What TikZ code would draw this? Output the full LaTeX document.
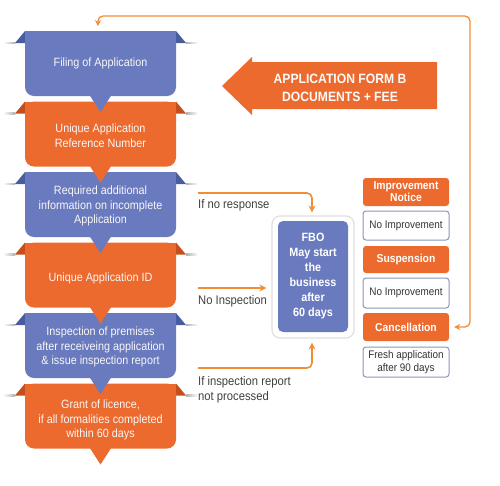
\documentclass[tikz,border=0pt]{standalone}
\usepackage{fontspec}
\setmainfont{Liberation Sans}[FakeStretch=0.9]
\usetikzlibrary{arrows.meta,calc}

\definecolor{fboblue}{RGB}{106,122,190}
\definecolor{earblue}{RGB}{72,92,160}
\definecolor{fborange}{RGB}{237,106,46}
\definecolor{earorange}{RGB}{196,78,28}
\definecolor{loopcol}{RGB}{240,142,55}
\definecolor{notecol}{RGB}{140,150,185}

\tikzset{blocktext/.style={text=white!94!gray,align=center,font=\fontsize{12}{14.5}\selectfont}}
\tikzset{headtext/.style={text=white!96!gray,align=center,font=\bfseries\fontsize{13.5}{18}\selectfont}}
\tikzset{sidebox/.style={fill=fborange,rounded corners=3pt,text=white,align=center,inner sep=0pt,
  minimum width=86pt,font=\bfseries\fontsize{11.5}{12}\selectfont}}
\tikzset{notebox/.style={draw=notecol,line width=1pt,fill=white,rounded corners=3pt,text=black!80,align=center,
  inner sep=0pt,minimum width=86pt,font=\fontsize{11}{13.5}\selectfont}}
\tikzset{mylabel/.style={text=black!75,anchor=west,inner sep=0pt,align=left,font=\fontsize{12.5}{15}\selectfont}}
\tikzset{myarrow/.style={loopcol,line width=1.6pt,-{Stealth[length=7pt,width=7pt]},rounded corners=5pt}}

% one step of the left column: top edge, fill colour, colour of the folds
\newcommand{\flowblock}[3]{%
  \shade[left color=white,right color=gray!60] (3,#1+11) rectangle (15,#1+12.5);
  \shade[left color=gray!60,right color=white] (186,#1+11) rectangle (198,#1+12.5);
  \fill[#3] (15,#1+12) -- (25,#1) -- (25,#1+12) -- cycle;
  \fill[#3] (186,#1+12) -- (176,#1) -- (176,#1+12) -- cycle;
  \fill[#2,rounded corners=9pt] (25,#1) rectangle (176,#1+65);
  \fill[#2] (25,#1) rectangle (176,#1+20);
  \fill[#2] (89.5,#1+64) -- (100.5,#1+81) -- (111.5,#1+64) -- cycle;
}

\begin{document}
\begin{tikzpicture}[x=1pt,y=-1pt]
	\useasboundingbox (0,0) rectangle (500,485);

	% left column, drawn from the bottom so each pointer lies on the next step
	\flowblock{383.5}{fborange}{earorange}
	\flowblock{313}{fboblue}{earblue}
	\flowblock{242.5}{fborange}{earorange}
	\flowblock{172}{fboblue}{earblue}
	\flowblock{101.5}{fborange}{earorange}
	\flowblock{31}{fboblue}{earblue}

	\node[blocktext] (filing) at (100.5,63) {Filing of Application};
	\node[blocktext] (refno) at (100.5,135.5) {Unique Application\\Reference Number};
	\node[blocktext] (addinfo) at (100.5,206) {Required additional\\information on incomplete\\Application};
	\node[blocktext] (appid) at (100.5,278) {Unique Application ID};
	\node[blocktext] (inspect) at (100.5,347) {Inspection of premises\\after receiveing application\\\& issue inspection report};
	\node[blocktext] (grant) at (100.5,420) {Grant of licence,\\if all formalities completed\\within 60 days};

	% big arrow
	\fill[fborange] (222,86) -- (252,57) -- (252,62) -- (437,62) -- (437,109) -- (252,109) -- (252,115) -- cycle;
	\node[headtext] (formb) at (340,88) {APPLICATION FORM B\\DOCUMENTS + FEE};

	% FBO box
	\node[draw=gray!25,line width=1.2pt,rounded corners=8pt,minimum width=82pt,minimum height=122pt] (fboframe) at (313,277) {};
	\node[fill=fboblue,rounded corners=5pt,minimum width=70pt,minimum height=111pt,inner sep=0pt,
		text=white,align=center,font=\bfseries\fontsize{12}{15}\selectfont] (fbo) at (313,276.5)
		{FBO\\May start\\the\\business\\after\\60 days};

	% right column
	\node[sidebox,minimum height=28pt] (impn) at (406,192) {Improvement\\Notice};
	\node[notebox,minimum height=29pt] (noimpa) at (406,225.5) {No Improvement};
	\node[sidebox,minimum height=27pt] (susp) at (406,259.5) {Suspension};
	\node[notebox,minimum height=30pt] (noimpb) at (406,293) {No Improvement};
	\node[sidebox,minimum height=28pt] (canc) at (406,327) {Cancellation};
	\node[notebox,minimum height=30pt] (fresh) at (406,362) {Fresh application\\after 90 days};

	% labels and arrows into the FBO box
	\coordinate (noresp) at (198,193);
	\coordinate (noinsp) at (198,288);
	\coordinate (noproc) at (198,368);
	\node[mylabel] (noresplbl) at (198,205) {If no response};
	\node[mylabel] (noinsplbl) at (198,301) {No Inspection};
	\node[mylabel] (noproclbl) at (198,389.5) {If inspection report\\not processed};

	\draw[myarrow,shorten >=3pt] (noresp) -| (fboframe.north -| 312,0);
	\draw[myarrow,shorten >=5pt] (noinsp) -- (noinsp -| fboframe.west);
	\draw[myarrow,shorten >=4pt] (noproc) -| (fboframe.south -| 312,0);

	% loop back from cancellation
	\coordinate (loopr) at (470,16);
	\coordinate (loopl) at (98,16);
	\coordinate (filtop) at (98,31);
	\draw[myarrow,line width=1.3pt,{Stealth[length=6pt,width=6pt]}-{Stealth[length=6pt,width=6pt]},shorten <=5pt,shorten >=5pt]
		(canc.east) -- (canc.east -| loopr) -- (loopr) -- (loopl) -- (filtop);

\end{tikzpicture}
\end{document}
